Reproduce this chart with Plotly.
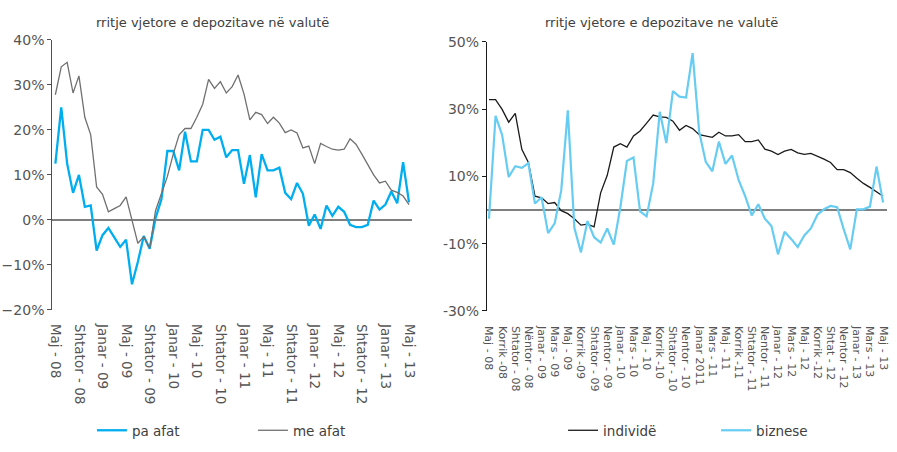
import plotly.graph_objects as go

# ---- data ----
months = list(range(61))  # May 2008 .. May 2013

left_ticklabels = ["Maj - 08", "Shtator - 08", "Janar - 09", "Maj - 09", "Shtator - 09",
                   "Janar - 10", "Maj - 10", "Shtator - 10", "Janar - 11", "Maj - 11",
                   "Shtator - 11", "Janar - 12", "Maj - 12", "Shtator - 12", "Janar - 13",
                   "Maj - 13"]
right_ticklabels = ["Maj - 08", "Korrik -08", "Shtator - 08", "Nëntor - 08", "Janar - 09",
                    "Mars - 09", "Maj - 09", "Korrik -09", "Shtator - 09", "Nentor - 09",
                    "Janar - 10", "Mars - 10", "Maj - 10", "Korrik -10", "Shtator - 10",
                    "Nentor - 10", "Janar 2011", "Mars - 11", "Maj - 11", "Korrik -11",
                    "Shtator - 11", "Nentor - 11", "Janar - 12", "Mars - 12", "Maj - 12",
                    "Korrik -12", "Shtat - 12", "Nentor - 12", "Janar - 13", "Mars - 13",
                    "Maj - 13"]
right_yticks = [-30, -10, 10, 30, 50]
right_yticklabels = ["-30%", "-10%", "10%", "30%", "50%"]

pa_afat = [12.5, 25, 12.5, 6, 10, 2.9, 3.2, -6.8, -3.4, -1.8,
           -3.9, -6, -4.4, -14.3, -9.3, -3.6, -6.4, 0.4, 4.6, 15.3,
           15.3, 11, 19.6, 13, 13, 20, 20, 17.8, 18.5, 13.9,
           15.5, 15.5, 8, 14.4, 5, 14.6, 11, 11, 11.6, 6,
           4.6, 8.2, 5.8, -1.3, 1.2, -2, 3.2, 0.9, 2.9, 1.8,
           -1.1, -1.6, -1.6, -1.1, 4.3, 2.3, 3.4, 6.3, 3.7, 12.8,
           3.9]
me_afat = [27.8, 34, 35, 28.2, 32, 22.8, 18.9, 7.3, 5.7, 1.8,
           2.5, 3.2, 5.1, 0, -5.2, -3.7, -6.3, 2.1, 5.7, 9.6,
           14.6, 18.9, 20.3, 20.3, 22.8, 25.7, 31.2, 29.2, 30.7, 28.2,
           29.6, 32.2, 28, 22.2, 23.9, 23.4, 21.4, 22.8, 21.5, 19.4,
           20, 19.3, 16, 16.4, 12.5, 17, 16.3, 15.7, 15.5, 15.7,
           18, 16.8, 14.6, 12.3, 10, 8.2, 8.6, 6.6, 6.1, 5.3,
           3.4]
individe = [32.8, 32.8, 29.9, 26.1, 28.7, 18, 14.1, 4.1, 3.6, 1.9,
            2.2, -0.2, -1.1, -2.6, -4.5, -4.2, -5, 5.1, 10.3, 18.7,
            19.7, 18.7, 22, 23.5, 25.8, 28.2, 27.7, 27.5, 26.4, 23.7,
            25.1, 24.2, 22.4, 22, 21.6, 23.1, 22, 22, 22.4, 20.3,
            20.3, 20.8, 18.1, 17.5, 16.5, 17.5, 18, 17, 16.5, 16.8,
            16, 15.1, 14.1, 12, 12, 11.1, 9.4, 7.9, 6.7, 5.3,
            4.1]
biznese = [-2.6, 28, 22.3, 9.8, 13, 12.5, 13.9, 1.9, 3.8, -6.9,
           -4, 5.8, 29.6, -5.3, -12.6, -3.3, -8.1, -9.7, -5.5, -10.3,
           0.8, 14.6, 15.6, -0.4, -1.9, 7.9, 29.2, 19.9, 35.3, 33.7,
           33.4, 46.6, 23.2, 14.3, 11.5, 20.3, 13.7, 16.2, 8.9, 4.1,
           -1.6, 1.7, -2.6, -4.8, -13.2, -6.5, -8.6, -11, -7.6, -5.5,
           -1.4, 0.2, 1.2, 0.8, -5.7, -11.7, 0.2, 0.2, 1, 12.9,
           2.2]

title_left = "rritje vjetore e depozitave në valutë"
title_right = "rritje vjetore e depozitave ne valutë"

FONT = "DejaVu Sans"
TXT = "#404040"
TICK = "#555555"

fig = go.Figure()
fig.add_trace(go.Scatter(x=months, y=pa_afat, mode="lines", name="pa afat",
                         line=dict(color="#00aeef", width=2.3),
                         xaxis="x", yaxis="y", legend="legend"))
fig.add_trace(go.Scatter(x=months, y=me_afat, mode="lines", name="me afat",
                         line=dict(color="#707070", width=1.3),
                         xaxis="x", yaxis="y", legend="legend"))
fig.add_trace(go.Scatter(x=months, y=individe, mode="lines", name="individë",
                         line=dict(color="#1a1a1a", width=1.3),
                         xaxis="x2", yaxis="y2", legend="legend2"))
fig.add_trace(go.Scatter(x=months, y=biznese, mode="lines", name="biznese",
                         line=dict(color="#66ccf2", width=2.2),
                         xaxis="x2", yaxis="y2", legend="legend2"))

W, H = 897, 452

fig.update_layout(
    width=W, height=H,
    margin=dict(l=0, r=0, t=0, b=0),
    paper_bgcolor="white", plot_bgcolor="white",
    font=dict(family=FONT, color=TXT),
    xaxis=dict(domain=[48 / W, 412 / W], range=[-0.5, 60.5],
               tickvals=months[::4], ticktext=left_ticklabels, tickangle=90,
               showgrid=False, zeroline=False, showline=False, ticks="",
               ticklabelstandoff=13,
               tickfont=dict(size=13.5, color=TICK), anchor="y"),
    yaxis=dict(domain=[1 - 313 / H, 1 - 33 / H], range=[-20, 40], dtick=10,
               ticksuffix="%", showgrid=False, zeroline=True, zerolinecolor="#7f7f7f",
               zerolinewidth=2, showline=True, linecolor="#505050", linewidth=1.3,
               ticks="outside", ticklen=4, tickcolor="#505050",
               tickfont=dict(size=14, color=TICK), anchor="x"),
    xaxis2=dict(domain=[488 / W, 893 / W], range=[-0.3, 60.6],
                tickvals=months[::2], ticktext=right_ticklabels, tickangle=90,
                showgrid=False, zeroline=False, showline=False, ticks="",
                ticklabelstandoff=14,
                tickfont=dict(size=11, color=TICK), anchor="y2"),
    yaxis2=dict(domain=[1 - 314 / H, 1 - 35 / H], range=[-30, 50],
                tickvals=right_yticks, ticktext=right_yticklabels, showgrid=False,
                zeroline=True, zerolinecolor="#7f7f7f", zerolinewidth=2,
                showline=True, linecolor="#1a1a1a", linewidth=1.3,
                ticks="outside", ticklen=4, tickcolor="#1a1a1a",
                tickfont=dict(size=14, color=TICK), anchor="x2"),
    legend=dict(orientation="h", x=88 / W, y=1 - 438 / H, xanchor="left", yanchor="middle",
                entrywidth=116, entrywidthmode="pixels",
                font=dict(size=13.5, color=TXT), bgcolor="rgba(0,0,0,0)"),
    legend2=dict(orientation="h", x=565 / W, y=1 - 438 / H, xanchor="left", yanchor="middle",
                 entrywidth=108, entrywidthmode="pixels",
                 font=dict(size=13.5, color=TXT), bgcolor="rgba(0,0,0,0)"),
    annotations=[
        dict(text=title_left, x=210 / W, y=1 - 15 / H, xref="paper", yref="paper",
             showarrow=False, font=dict(size=13, color=TXT), xanchor="center", yanchor="middle"),
        dict(text=title_right, x=665 / W, y=1 - 15 / H, xref="paper", yref="paper",
             showarrow=False, font=dict(size=13, color=TXT), xanchor="center", yanchor="middle"),
    ],
)

fig.write_html("out.html")
